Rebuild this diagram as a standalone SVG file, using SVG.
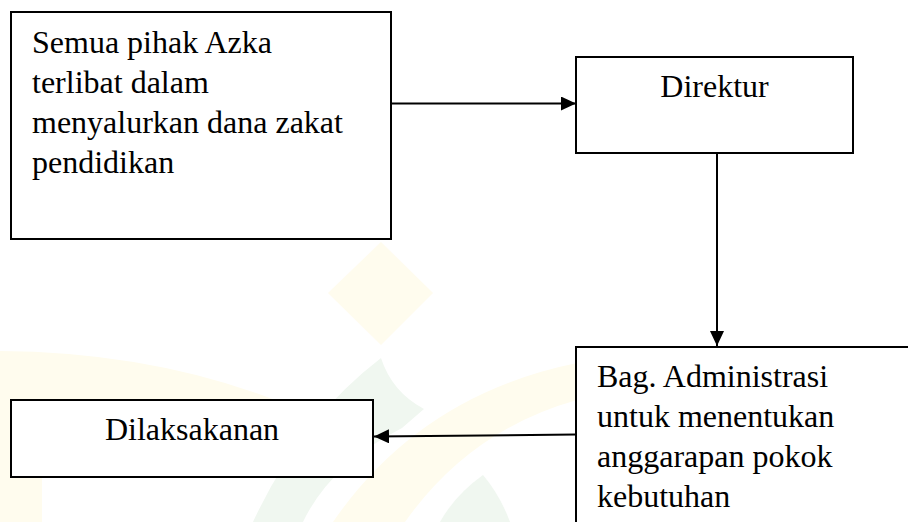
<svg xmlns="http://www.w3.org/2000/svg" width="908" height="522" viewBox="0 0 908 522">
<style>
.box{fill:#fff;stroke:#000;stroke-width:2}
.t{font-family:"Liberation Serif","Times New Roman",serif;font-size:32px;fill:#000}
.c{text-anchor:middle}
.ln{stroke:#000;stroke-width:2;fill:none}
.wy{fill:#fffcee}
.wg{fill:#f0f7f0}
</style>
<defs>
<marker id="ah" markerWidth="15" markerHeight="14" refX="15" refY="7" orient="auto" markerUnits="userSpaceOnUse">
<path d="M0,0 L15,7 L0,14 Z" fill="#000"/>
</marker>
</defs>
<rect width="908" height="522" fill="#fff"/>
<g id="watermark">
<path class="wy" d="M381,242 L433,293 L381,345 L328,293 Z"/>
<path class="wy" d="M0,351 Q150,352 275,400 L275,476 L42,476 L42,522 L0,522 Z"/>
<path class="wy" d="M333,522 Q420,395 577,363 L577,400 Q470,430 405,522 Z"/>
<path class="wg" d="M381,358 Q392,392 424,409 L402,428 Q330,465 303,522 L253,522 Q300,420 381,358 Z"/>
<path class="wg" d="M440,522 Q455,495 483,475 Q500,495 510,522 Z"/>
</g>
<g id="connectors">
<line class="ln" x1="391" y1="103.5" x2="576" y2="103.5" marker-end="url(#ah)"/>
<line class="ln" x1="717" y1="153" x2="717" y2="346" marker-end="url(#ah)"/>
<line class="ln" x1="576" y1="434.5" x2="374" y2="436.5" marker-end="url(#ah)"/>
</g>
<g id="node-semua">
<rect class="box" x="11" y="12" width="380" height="227"/>
<text class="t" x="32" y="53">Semua pihak Azka</text>
<text class="t" x="32" y="93">terlibat dalam</text>
<text class="t" x="32" y="133">menyalurkan dana zakat</text>
<text class="t" x="32" y="173">pendidikan</text>
</g>
<g id="node-direktur">
<rect class="box" x="576" y="57" width="277" height="96"/>
<text class="t c" x="714.5" y="97">Direktur</text>
</g>
<g id="node-administrasi">
<rect class="box" x="576" y="347" width="340" height="190"/>
<text class="t" x="597" y="387">Bag. Administrasi</text>
<text class="t" x="597" y="427">untuk menentukan</text>
<text class="t" x="597" y="467">anggarapan pokok</text>
<text class="t" x="597" y="507">kebutuhan</text>
</g>
<g id="node-dilaksakanan">
<rect class="box" x="11" y="400" width="362" height="77"/>
<text class="t c" x="192" y="440">Dilaksakanan</text>
</g>
</svg>
